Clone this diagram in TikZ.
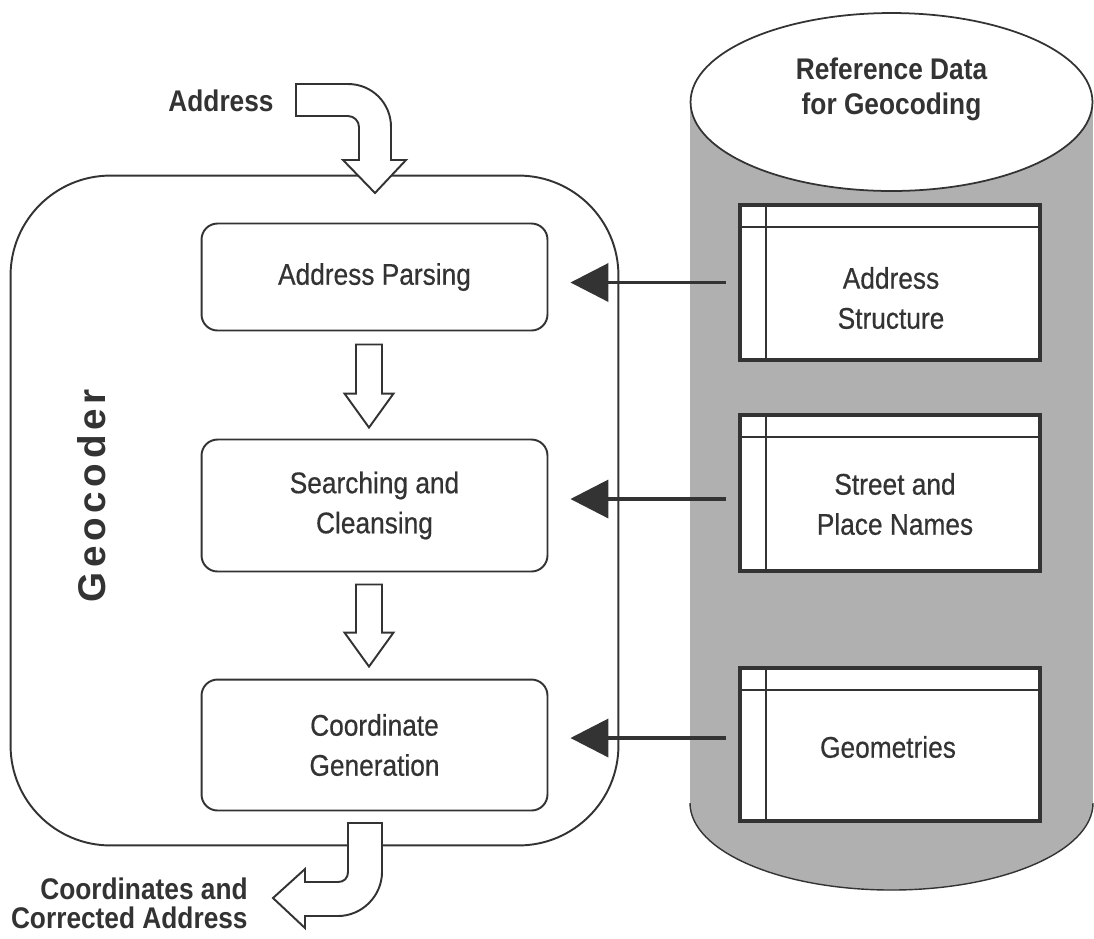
\documentclass[tikz,border=0pt]{standalone}
\usepackage{fontspec}
\setmainfont{Liberation Sans}[FakeStretch=0.88]
\newfontfamily\bodyfont{Liberation Sans}[FakeStretch=0.88, FakeBold=0.5]
\newfontfamily\gcfont{Liberation Sans}[LetterSpace=12]
\usetikzlibrary{shapes.geometric,arrows.meta,calc}
\definecolor{ink}{RGB}{51,51,51}
\definecolor{cylgray}{RGB}{176,176,176}

\begin{document}
\begin{tikzpicture}[x=0.02cm,y=-0.02cm]
	\tikzstyle{every node}+=[inner sep=0pt, text=ink, align=center, font=\bodyfont\fontsize{17}{22.8}\selectfont]
	\tikzstyle{stepbox}=[draw=ink, line width=1.1pt, rounded corners=0.32cm, minimum width=6.92cm]
	\tikzstyle{tablebox}=[draw=ink, line width=2.2pt, fill=white, minimum width=6cm]
	\tikzstyle{tableline}=[draw=ink, line width=1.2pt]
	\tikzstyle{feed}=[draw=ink, line width=2.2pt, -{Triangle[length=0.76cm, width=0.76cm]}]
	\tikzstyle{hollow}=[draw=ink, line width=1.1pt, fill=white]
	\tikzstyle{boldlbl}=[font=\rmfamily\bfseries\fontsize{17}{20}\selectfont]
	\fill[white] (0,0) rectangle (1094,938);
	\useasboundingbox (0,0) rectangle (1094,938);
	\fill[cylgray] (690,102) rectangle (1093,803);
	\fill[cylgray] (891.5,803) ellipse [x radius=201.5, y radius=87];
	\begin{scope}
		\clip (680,803) rectangle (1094,938);
		\draw[ink, line width=0.8pt] (891.5,803) ellipse [x radius=201.5, y radius=87];
	\end{scope}
	\node[ellipse, draw=ink, line width=1pt, fill=white, minimum width=8.04cm, minimum height=3.56cm] (refdb) at (891.5,102) {};
	\node[boldlbl] (reftext) at ($(refdb.center)+(0,-13)$) {Reference Data\\for Geocoding};
	\node[tablebox, minimum height=3.1cm] (tstruct) at (890,282.5) {};
	\node[tablebox, minimum height=3.12cm] (tnames) at (890,493) {};
	\node[tablebox, minimum height=3.06cm] (tgeom) at (890,744.5) {};
	\foreach \t in {tstruct,tnames,tgeom}{
		\draw[tableline] ($(\t.north west)+(28,0)$) -- ($(\t.south west)+(28,0)$);
		\draw[tableline] ($(\t.north west)+(0,24)$) -- ($(\t.north east)+(0,24)$);
	}
	\node (lstruct) at (891,298) {Address\\Structure};
	\node (lnames) at (895,504) {Street and\\Place Names};
	\node (lgeom) at (888,747) {Geometries};
	\node[draw=ink, line width=1.1pt, rounded corners=2cm, minimum width=12.16cm, minimum height=13.4cm] (gc) at (314.5,510.5) {};
	\node[rotate=90, font=\gcfont\bfseries\fontsize{22}{22}\selectfont] (gclbl) at (92,496) {Geocoder};
	\node[stepbox, minimum height=2.14cm] (ap) at (374.5,277) {Address Parsing};
	\node[stepbox, minimum height=2.64cm] (sc) at (374.5,505.5) {Searching and\\Cleansing};
	\node[stepbox, minimum height=2.62cm] (cg) at (374.5,745) {Coordinate\\Generation};
	\draw[feed] ($(tstruct.west)+(-12,0)$) -- ($(ap.east |- tstruct.west)+(22,0)$);
	\draw[feed] ($(tnames.west)+(-12,6)$) -- ($(sc.east |- tnames.west)+(22,6)$);
	\draw[feed] ($(tgeom.west)+(-12,-6.5)$) -- ($(cg.east |- tgeom.west)+(22,-6.5)$);
	\coordinate (d1top) at ($(ap.south)+(-5.5,13)$);
	\coordinate (d1tip) at ($(sc.north)+(-5.5,-11)$);
	\coordinate (d2top) at ($(sc.south)+(-5.5,12)$);
	\coordinate (d2tip) at ($(cg.north)+(-5.5,-12)$);
	\foreach \a/\b in {d1top/d1tip,d2top/d2tip}
		\draw[hollow] ($(\a)+(-13,0)$) -- ($(\b)+(-13,-34)$) -- ($(\b)+(-24.5,-34)$) -- (\b) -- ($(\b)+(24.5,-34)$) -- ($(\b)+(13,-34)$) -- ($(\a)+(13,0)$) -- cycle;
	\node[boldlbl] (addr) at (221,101) {Address};
	\coordinate (intip) at (375,193);
	\draw[hollow, shift={(intip)}] (-79,-109) -- (-27,-109) .. controls (-3,-109) and (16,-90) .. (16,-66) -- (16,-33) -- (31,-33) -- (0,0) -- (-32,-33) -- (-16,-33) -- (-16,-66) .. controls (-16,-72) and (-21,-77) .. (-27,-77) -- (-79,-77) -- cycle;
	\coordinate (outtip) at (273,898);
	\draw[hollow, shift={(outtip)}] (109,-75) -- (109,-26) .. controls (109,-2) and (89,18) .. (65,18) -- (32,18) -- (32,30) -- (0,0) -- (32,-29) -- (32,-16) -- (65,-16) .. controls (71,-16) and (75,-20) .. (75,-26) -- (75,-75) -- cycle;
	\node[boldlbl, anchor=east, align=right, font=\rmfamily\bfseries\fontsize{17}{16.5}\selectfont] (outlbl) at (248,903) {Coordinates and\\Corrected Address};
\end{tikzpicture}
\end{document}
